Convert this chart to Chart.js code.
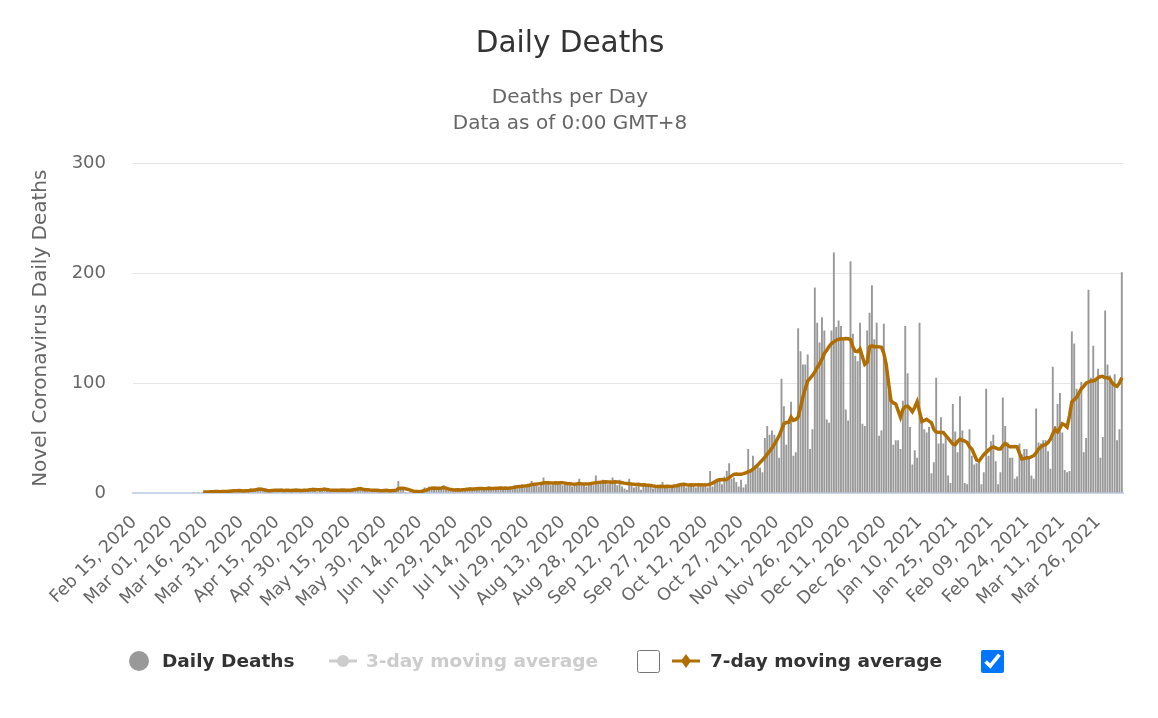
<!DOCTYPE html>
<html lang="en">
<head>
<meta charset="UTF-8">
<title>Daily Deaths</title>
<script src="https://cdn.jsdelivr.net/npm/chart.js"></script>
<style>
  html, body { margin: 0; padding: 0; background: #fff; }
  body { width: 1158px; height: 718px; position: relative; overflow: hidden; font-family: "DejaVu Sans", Verdana, sans-serif; }
  #grafico { position: absolute; left: 0; top: 0; }
  .legend { position: absolute; left: 0; top: 647px; width: 1158px; height: 28px; }
  .legend .item { position: absolute; top: 0; height: 28px; line-height: 28px; font-size: 18.5px; font-weight: bold; color: #333; white-space: nowrap; }
  .legend .off { color: #ccc; }
  .legend svg { position: absolute; top: 0; }
  .legend input { position: absolute; top: 3px; width: 23px; height: 23px; margin: 0; }
</style>
</head>
<body>
<canvas id="grafico" width="1158" height="718"></canvas>
<div class="legend">
  <svg style="left:128px" width="22" height="28"><circle cx="11" cy="14" r="10" fill="#999"/></svg>
  <span class="item" style="left:162px">Daily Deaths</span>
  <svg style="left:328px" width="30" height="28"><line x1="1" y1="14" x2="29" y2="14" stroke="#ccc" stroke-width="3"/><circle cx="15" cy="14" r="6" fill="#ccc"/></svg>
  <span class="item off" style="left:366px">3-day moving average</span>
  <input type="checkbox" style="left:637px">
  <svg style="left:671px" width="30" height="28"><line x1="1" y1="14" x2="29" y2="14" stroke="#b06e00" stroke-width="3"/><path d="M15 7 L20 14 L15 21 L10 14 Z" fill="#b06e00"/></svg>
  <span class="item" style="left:710px">7-day moving average</span>
  <input type="checkbox" checked style="left:981px">
</div>
<script>
// days since Feb 15, 2020
const startDate = Date.UTC(2020, 1, 15);
const dayCount = 416;
const tickEvery = 15;
const monthNames = ['Jan', 'Feb', 'Mar', 'Apr', 'May', 'Jun', 'Jul', 'Aug', 'Sep', 'Oct', 'Nov', 'Dec'];

const dailyDeaths = [
  0,0,0,0,0,0,0,0,0,0, 0,0,0,0,0,0,0,0,0,0, 0,0,0,0,0,
  1,0,1,0,1,1,0,1,0,2, 1,0,1,2,1,2,3,1,2,3, 2,1,3,2,4,3,2,5,4,3, 2,1,2,3,2,
  3,2,4,1,3,2,3,2,4,1, 3,2,3,2,4,5,2,1,3,4, 3,2,3,1,2,3,2,4,2,3, 1,2,3,4,5,3,2,3,2,1, 3,2,3,2,1,2,3,2,1,2, 3,11,
  4,3,1,0,1,0,1,2,1,3, 5,4,6,5,4,3,5,4,7,3, 2,3,2,4,3,2,3,4,
  3,5,4,3,5,4,3,5,4,6, 3,4,5,4,6,3,5,4,6,5, 7,4,6,8,5,7,
  8,11,7,9,6,8,14,9,10,7, 8,11,9,10,7,9,8,10,6,9, 8,13,7,9,6,8,10,7,16,8,
  9,12,10,8,9,14,11,7,12,6, 4,3,13,7,5,
  6,8,3,9,7,6,8,4,5,7, 6,10,5,6,4,7,5,8,6,9, 9,5,6,8,7,5,9,8,6,7, 5,20,6,9,13,12,8,15,20,27, 13,14,10,6,
  12,5,8,40,20,34,23,26,23,19, 50,61,53,57,53,47,32,104,79,44, 64,83,34,37,150,129,117,117,126,40,
  58,187,155,137,160,148,67,64,148,219, 151,157,152,139,76,66,211,145,125,120,
  155,63,61,148,164,189,140,155,52,57, 154,113,93,84,44,48,48,40,84,152, 109,60,26,39,32,155,69,58,55,60,
  18,28,105,45,69,45,53,16,9,81, 56,37,88,57,9,8,58,34,26,27, 28,8,19,95,
  34,47,53,29,8,19,87,61,46,32, 32,13,15,45,35,40,40,32,16,13, 77,46,45,48,48,38,22,115,61,81,
  91,55,21,19,20,147,136,95,93,101, 37,50,185,105,134,105,113,32,51,166, 117,107,99,108,48,58,201
];

// 7-day moving average, first value on day 29 (Mar 15, 2020)
const avgStartDay = 29;
const avg7 = [
  1,1,1,1.1,1.1,1.3,1.3,1.1,1.3,1.4,1.3,1.6,1.9,
  2,2.1,2.3,2.1,1.9,2,2.1,2.4,2.6,2.9,
  3.3,3.6,3.3,2.7,2.3,2.1,2.3,2.4,
  2.4,2.6,2.4,2.3,2.6,2.4,2.3,2.6,2.4,2.4,2.3,2.4,
  2.6,2.7,2.9,3,3.1,3,2.9,3.1,3.6,3.1,2.7,2.6,
  2.4,2.6,2.4,2.6,2.7,2.6,2.4,2.6,2.9,3.1,3.6,4,
  3.4,3.1,3,2.7,2.6,2.4,2.6,2.3,2.1,2.3,2.4,2.1,2.1,2.3,2.4,3.9,
  4.4,4.3,3.9,3.3,2.6,1.9,1.3,1.3,1.1,1.6,2.3,2.9,3.7,
  4.4,4.6,4.3,4.4,4.6,4.9,4.4,3.7,3.3,2.9,2.7,2.9,2.7,2.9,3.1,
  3.4,3.6,3.7,3.6,3.9,4,4.1,3.9,4,4.3,4.1,4.1,4.3,4.4,
  4.6,4.4,4.6,4.4,4.6,4.9,5.3,5.7,6,6.1,6.3,6.6,
  7,7.6,8,8.1,8.3,8.7,9.1,9.3,9.4,9.1,9,9.3,9.1,9.3,9.4,9,
  8.6,8.4,8.1,8,8.3,8.6,8.4,8.3,8.1,8.3,8.6,9,9.3,9.6,
  9.9,10.1,10.3,10,10.1,9.9,10.3,10.1,9.7,9.4,9,8.7,
  8.4,8.1,7.9,7.7,7.9,7.4,7.6,7.3,7.1,6.9,6.4,6.1,
  6,6.1,5.9,6,6.1,5.9,6,6.3,6.6,7.3,7.7,8,
  7.6,7.4,7.6,7.3,7.4,7.6,7.4,7.3,7.4,7.6,8.1,9,10.3,11.4,
  12,12.3,12,12.4,14,15.6,17,17.3,17.1,17,
  17.6,18.4,19.3,20.1,21.7,23.6,25.4,27.9,30.1,32.4,
  35.4,38.1,41,44.3,48.1,52,57.4,63,64.1,64.3,
  69,66.1,67,69,78,87.4,95,102,104.4,107,
  110,114.3,117.6,122,127,130,133.4,136,137.6,139,
  140,140.4,140.1,140.6,140.4,139.7,133,129,128.6,131,
  124,117,119,133,134,133,133.4,133,132.6,127,
  117,100,84,82,81,75,69,76,78.6,79,
  77,74,78,83,74,65,66,67,65.4,64,
  58,55.4,55.3,55,55,52.4,50,47.3,44.6,44,
  47,49,48,47.3,46,42,40,35,30,29,
  32,35,37,39,41,42,41,40,40,43,
  45,43.6,42,42,42.3,42,36,31,31.4,32,
  32,33,34,36.6,40,42,43.6,44,46,49,
  54,58,55.6,59,63,62,60,70,83,85,
  87,91,95,97,100,101,102,102,103,105,
  106,106,105,105,104,100,98,97,100,105
];

const dayLabels = [];
for (let i = 0; i < dayCount; i++) {
  const d = new Date(startDate + i * 86400000);
  dayLabels.push(monthNames[d.getUTCMonth()] + ' ' + String(d.getUTCDate()).padStart(2, '0') + ', ' + d.getUTCFullYear());
}
const avgData = new Array(avgStartDay).fill(null).concat(avg7);

Chart.defaults.font.family = "'DejaVu Sans', Verdana, sans-serif";

let ctx = document.getElementById('grafico').getContext('2d');
let chart = new Chart(ctx, {
  data: {
    labels: dayLabels,
    datasets: [
      {
        type: 'line',
        label: '7-day moving average',
        data: avgData,
        borderColor: '#b06e00',
        borderWidth: 3.5,
        pointRadius: 0,
        tension: 0,
        order: 0
      },
      {
        type: 'bar',
        label: 'Daily Deaths',
        data: dailyDeaths,
        backgroundColor: '#999999',
        barPercentage: 0.8,
        categoryPercentage: 1,
        order: 1
      }
    ]
  },
  options: {
    responsive: false,
    animation: false,
    layout: { padding: { top: 10, right: 35, bottom: 90, left: 17 } },
    plugins: {
      legend: { display: false },
      tooltip: { enabled: false },
      title: {
        display: true,
        text: 'Daily Deaths',
        color: '#333',
        font: { size: 29.5, weight: 'normal' },
        padding: { top: 17, bottom: 0 }
      },
      subtitle: {
        display: true,
        text: ['Deaths per Day', 'Data as of 0:00 GMT+8'],
        color: '#666',
        font: { size: 20, lineHeight: 1.3 },
        padding: { top: 22, bottom: 27 }
      }
    },
    scales: {
      x: {
        offset: true,
        grid: { display: false },
        border: { display: true, color: '#ccd6eb', width: 2 },
        ticks: {
          autoSkip: false,
          minRotation: 45,
          maxRotation: 45,
          padding: 11,
          color: '#666',
          font: { size: 17.5 }
        },
        afterBuildTicks: s => { s.ticks = s.ticks.filter(t => t.value % tickEvery === 0); },
        afterFit: s => { s.height = 135; }
      },
      y: {
        min: 0,
        max: 300,
        ticks: { stepSize: 100, padding: 27, color: '#666', font: { size: 18 } },
        grid: { color: '#e6e6e6', drawTicks: false },
        border: { display: false },
        title: {
          display: true,
          text: 'Novel Coronavirus Daily Deaths',
          color: '#666',
          font: { size: 20 },
          padding: { top: 12, bottom: 0 }
        },
        afterFit: s => { s.width = 116; }
      }
    }
  }
});
</script>
</body>
</html>
